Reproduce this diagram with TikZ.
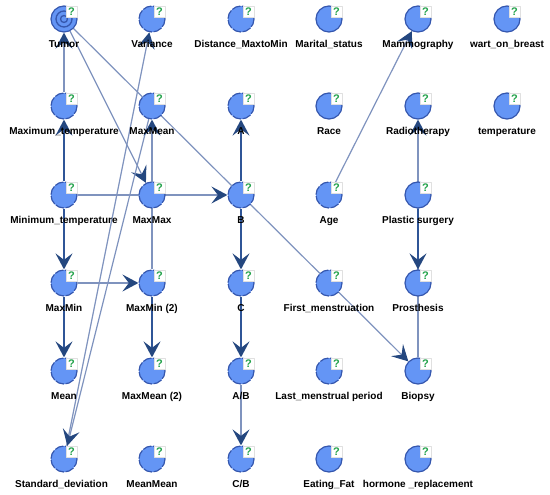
\documentclass[tikz,border=0pt]{standalone}
\usepackage{fontspec}
\setmainfont{Liberation Sans}
\usepackage{tikz}
\usetikzlibrary{arrows.meta, backgrounds}
\definecolor{c1}{HTML}{6495F5}
\definecolor{c2}{HTML}{3557AE}
\definecolor{c3}{HTML}{24477F}
\definecolor{c4}{HTML}{7F93BE}
\definecolor{c5}{HTML}{2F5597}
\definecolor{c6}{HTML}{22A24A}

\begin{document}
\begin{tikzpicture}[
  x=1pt, y=-1pt,
  line cap=butt, line join=round,
  qtag/.style={draw=black!12, fill=white, line width=0.4pt, minimum size=11pt, inner sep=0pt,
               anchor=center, xshift=-2.2pt, yshift=-2.2pt, text=c6,
               font=\fontsize{11}{11}\selectfont\bfseries},
  nm/.style={inner sep=0pt, text height=7pt, text depth=2pt, yshift=-8pt,
             font=\fontsize{10}{11}\selectfont\bfseries},
  sol/.style={circle, draw=c2, fill=c1, line width=1.2pt, minimum size=26pt, inner sep=0pt,
              label={[qtag]45:?}, label={[nm]below:{#1}}},
  obs/.style={sol={#1}, dash pattern=on 9pt off 1.4pt},
  tgt/.style={sol={#1}, path picture={
                \draw[c2, line width=1.3pt] (path picture bounding box.center) circle (3.5pt)
                                            (path picture bounding box.center) circle (8pt);}},
  hd/.style={-{Stealth[length=16pt,width=17pt,inset=6.5pt,color=c3]}},
  fl/.style={hd, draw=c5, line width=1.8pt},
  fla/.style={hd, draw=c4, line width=1.2pt},
]
\useasboundingbox (0,0) rectangle (550,495);

\node[tgt={Tumor}] (tumor) at ( 64, 19) {};
\node[obs={Variance}] (vari) at (152, 19) {};
\node[obs={Distance\_MaxtoMin}] (dist) at (241, 19) {};
\node[sol={Marital\_status}] (marital) at (329, 19) {};
\node[sol={Mammography}] (mammo) at (418, 19) {};
\node[sol={wart\_on\_breast}] (wart) at (507, 19) {};

\node[obs={Maximum\_temperature}] (maxt) at ( 64,106) {};
\node[obs={MaxMean}] (maxmean) at (152,106) {};
\node[obs={A}] (a) at (241,106) {};
\node[sol={Race}] (race) at (329,106) {};
\node[sol={Radiotherapy}] (radio) at (418,106) {};
\node[sol={temperature}] (temp) at (507,106) {};

\node[obs={Minimum\_temperature}] (mint) at ( 64,195) {};
\node[obs={MaxMax}] (maxmax) at (152,195) {};
\node[obs={B}] (b) at (241,195) {};
\node[obs={Age}] (age) at (329,195) {};
\node[sol={Plastic surgery}] (plastic) at (418,195) {};

\node[obs={MaxMin}] (maxmin) at ( 64,283) {};
\node[obs={MaxMin (2)}] (maxmintwo) at (152,283) {};
\node[obs={C}] (c) at (241,283) {};
\node[obs={First\_menstruation}] (first) at (329,283) {};
\node[sol={Prosthesis}] (prosth) at (418,283) {};

\node[obs={Mean}] (mean) at ( 64,371) {};
\node[obs={MaxMean (2)}] (maxmeantwo) at (152,371) {};
\node[obs={A/B}] (ab) at (241,371) {};
\node[obs={Last\_menstrual period}] (last) at (329,371) {};
\node[sol={Biopsy}] (biopsy) at (418,371) {};

\node[obs={\kern-5pt Standard\_deviation}] (std) at ( 64,459) {};
\node[obs={MeanMean}] (meanmean) at (152,459) {};
\node[obs={C/B}] (cb) at (241,459) {};
\node[sol={Eating\_Fat}] (fat) at (329,459) {};
\node[sol={hormone \_replacement}] (horm) at (418,459) {};

\begin{scope}[on background layer]
\draw[fla] (maxt) -- (tumor);
\draw[fla] (tumor) -- (maxmax);
\draw[fla] (tumor) -- (biopsy);
\draw[fla] (std) -- (vari);
\draw[fla] (maxmean) -- (std);
\draw[fla] (maxmintwo) -- (maxmean);
\draw[fla] (mint) -- (b);
\draw[fla] (maxmin) -- (maxmintwo);
\draw[fla] (ab) -- (cb);
\draw[fla] (age) -- (mammo);
\draw[fla] (biopsy) -- (radio);

\draw[fl] (mint) -- (maxt);
\draw[fl] (mint) -- (maxmin);
\draw[fl] (maxmin) -- (mean);
\draw[fl] (maxmintwo) -- (maxmeantwo);
\draw[fl] (b) -- (a);
\draw[fl] (b) -- (c);
\draw[fl] (c) -- (ab);
\draw[fl] (plastic) -- (prosth);
\end{scope}
\end{tikzpicture}
\end{document}
